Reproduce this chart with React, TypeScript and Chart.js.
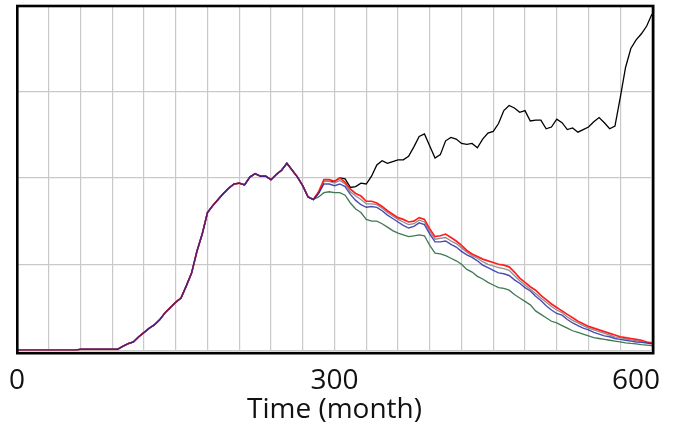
import { useEffect, useRef } from 'react';
import { Chart, registerables } from 'chart.js';

Chart.register(...registerables);

// Simulation time axis, one sample every 5 months (0 .. 600)
const months: number[] = Array.from({ length: 121 }, (_, i) => i * 5);

// Trajectory common to every run, months 0 .. 280
const sharedRun: number[] = [
  0.005, 0.005, 0.005, 0.005, 0.005, 0.005, 0.005, 0.005, 0.005, 0.005, 0.005, 0.005,
  0.015, 0.015, 0.015, 0.015, 0.015, 0.015, 0.015, 0.015,
  0.05, 0.08, 0.10, 0.16, 0.21, 0.26, 0.30, 0.36, 0.44, 0.50,
  0.56, 0.61, 0.75, 0.90, 1.15, 1.35, 1.60, 1.68, 1.75, 1.82,
  1.88, 1.93, 1.94, 1.92, 2.01, 2.05, 2.02, 2.02, 1.98, 2.04,
  2.09, 2.17, 2.09, 2.01, 1.91, 1.78, 1.75,
];

// Individual runs after they separate, months 285 .. 600
const blackRun: number[] = [
  1.83, 1.96, 1.96, 1.96, 2.00, 1.99, 1.89, 1.90, 1.94, 1.93,
  2.02, 2.15, 2.20, 2.17, 2.19, 2.21, 2.21, 2.25, 2.36, 2.48,
  2.51, 2.37, 2.23, 2.27, 2.43, 2.47, 2.45, 2.40, 2.39, 2.40,
  2.35, 2.45, 2.52, 2.54, 2.63, 2.78, 2.84, 2.81, 2.76, 2.78,
  2.66, 2.67, 2.67, 2.57, 2.59, 2.68, 2.64, 2.56, 2.58, 2.53,
  2.56, 2.59, 2.65, 2.70, 2.64, 2.57, 2.60, 2.93, 3.28, 3.50,
  3.60, 3.67, 3.76, 3.90,
];

const redRun: number[] = [
  1.84, 1.98, 1.98, 1.96, 2.00, 1.95, 1.87, 1.82, 1.79, 1.73,
  1.73, 1.71, 1.67, 1.62, 1.58, 1.54, 1.52, 1.49, 1.50, 1.54,
  1.52, 1.41, 1.32, 1.33, 1.35, 1.31, 1.27, 1.22, 1.16, 1.12,
  1.09, 1.06, 1.04, 1.02, 1.00, 0.99, 0.97, 0.91, 0.84, 0.79,
  0.74, 0.70, 0.64, 0.59, 0.54, 0.50, 0.46, 0.42, 0.38, 0.34,
  0.31, 0.28, 0.26, 0.24, 0.22, 0.20, 0.18, 0.16, 0.15, 0.14,
  0.13, 0.12, 0.10, 0.09,
];

const grayRun: number[] = [
  1.83, 1.96, 1.96, 1.94, 1.97, 1.93, 1.84, 1.79, 1.75, 1.70,
  1.70, 1.69, 1.65, 1.60, 1.56, 1.52, 1.49, 1.46, 1.47, 1.51,
  1.49, 1.38, 1.29, 1.30, 1.31, 1.27, 1.24, 1.19, 1.14, 1.10,
  1.07, 1.03, 1.00, 0.98, 0.96, 0.95, 0.93, 0.87, 0.81, 0.76,
  0.71, 0.66, 0.61, 0.56, 0.51, 0.47, 0.44, 0.39, 0.35, 0.32,
  0.29, 0.26, 0.24, 0.22, 0.20, 0.18, 0.16, 0.15, 0.135, 0.125,
  0.115, 0.105, 0.095, 0.085,
];

const blueRun: number[] = [
  1.82, 1.93, 1.93, 1.91, 1.93, 1.90, 1.81, 1.74, 1.69, 1.66,
  1.67, 1.66, 1.62, 1.57, 1.53, 1.49, 1.45, 1.42, 1.44, 1.48,
  1.46, 1.35, 1.26, 1.26, 1.27, 1.23, 1.20, 1.15, 1.11, 1.08,
  1.04, 0.99, 0.96, 0.93, 0.90, 0.89, 0.87, 0.82, 0.78, 0.73,
  0.69, 0.63, 0.58, 0.52, 0.47, 0.43, 0.41, 0.36, 0.32, 0.29,
  0.26, 0.24, 0.21, 0.19, 0.17, 0.16, 0.14, 0.13, 0.12, 0.11,
  0.10, 0.095, 0.087, 0.08,
];

const greenRun: number[] = [
  1.78, 1.83, 1.84, 1.83, 1.83, 1.80, 1.71, 1.64, 1.60, 1.52,
  1.50, 1.50, 1.47, 1.43, 1.39, 1.36, 1.34, 1.32, 1.33, 1.34,
  1.33, 1.22, 1.13, 1.12, 1.10, 1.07, 1.04, 1.00, 0.94, 0.91,
  0.86, 0.83, 0.79, 0.76, 0.73, 0.72, 0.70, 0.65, 0.61, 0.57,
  0.53, 0.46, 0.42, 0.38, 0.34, 0.32, 0.29, 0.26, 0.23, 0.21,
  0.19, 0.17, 0.15, 0.14, 0.13, 0.12, 0.11, 0.10, 0.09, 0.083,
  0.078, 0.07, 0.064, 0.058,
];

// Labelled x ticks; grid lines fall every 30 months
const xTickLabels: number[] = [0, 300, 600];
const X_MIN = 0;
const X_MAX = 600;
const Y_MIN = 0;
const Y_MAX = 4;

const FONT_FAMILY = '"Open Sans", "Noto Sans", sans-serif';
const TEXT_COLOR = '#111111';
const GRID_COLOR = '#c9c9c9';

function toPoints(tail: number[]) {
  const values = sharedRun.concat(tail);
  return months.map((m, i) => ({ x: m, y: values[i] }));
}

// Thick frame round the plot and the x tick labels, kept inside the canvas
const framePlugin = {
  id: 'frameAndTicks',
  afterDatasetsDraw(chart: Chart) {
    const { ctx, chartArea, scales } = chart;
    const { left, top, right, bottom } = chartArea;
    ctx.save();
    ctx.strokeStyle = '#000000';
    ctx.lineWidth = 2.6;
    ctx.strokeRect(left + 0.3, top + 0.7, right - left + 0.9, bottom - top + 1.9);

    const xScale = scales.x;
    ctx.font = `28px ${FONT_FAMILY}`;
    ctx.fillStyle = TEXT_COLOR;
    ctx.textAlign = 'center';
    ctx.textBaseline = 'alphabetic';
    const canvasWidth = chart.width;
    for (const v of xTickLabels) {
      const text = String(v);
      const half = ctx.measureText(text).width / 2;
      let cx = xScale.getPixelForValue(v);
      cx = Math.max(cx, half);
      cx = Math.min(cx, canvasWidth - 13 - half);
      ctx.fillText(text, cx, bottom + 38);
    }
    ctx.restore();
  },
};

export default function App() {
  const canvasRef = useRef<HTMLCanvasElement | null>(null);

  useEffect(() => {
    const canvas = canvasRef.current;
    if (!canvas) return;

    const line = (label: string, color: string, tail: number[], width: number) => ({
      label,
      data: toPoints(tail),
      borderColor: color,
      backgroundColor: color,
      borderWidth: width,
      pointRadius: 0,
      tension: 0,
      fill: false,
    });

    // The first dataset is painted last, so blue sits on top of red
    const chart = new Chart(canvas, {
      type: 'line',
      data: {
        datasets: [
          line('blue', 'rgba(30, 30, 160, 0.8)', blueRun, 1.4),
          line('red', '#ff1e1e', redRun, 1.7),
          line('gray', '#8e8e8e', grayRun, 1.3),
          line('green', '#3f7a55', greenRun, 1.3),
          line('black', '#000000', blackRun, 1.3),
        ],
      },
      options: {
        responsive: false,
        animation: false,
        devicePixelRatio: 1,
        layout: { padding: { left: 17, right: 21, top: 5.3, bottom: 0 } },
        plugins: {
          legend: { display: false },
          tooltip: { enabled: false },
        },
        scales: {
          x: {
            type: 'linear',
            min: X_MIN,
            max: X_MAX,
            ticks: { stepSize: 30, display: false },
            grid: { color: GRID_COLOR, lineWidth: 1.2, drawTicks: false },
            border: { display: false },
            title: {
              display: true,
              text: 'Time (month)',
              color: TEXT_COLOR,
              font: { family: FONT_FAMILY, size: 28, lineHeight: 1.2 },
              padding: { top: 42.6, bottom: 7.2 },
            },
          },
          y: {
            type: 'linear',
            min: Y_MIN,
            max: Y_MAX,
            ticks: { stepSize: 1, display: false },
            grid: { color: GRID_COLOR, lineWidth: 1.2, drawTicks: false },
            border: { display: false },
          },
        },
      },
      plugins: [framePlugin],
    });

    return () => chart.destroy();
  }, []);

  return (
    <div style={{ position: 'absolute', left: 0, top: 0, width: 673, height: 434, background: '#ffffff' }}>
      <canvas ref={canvasRef} width={673} height={434} />
    </div>
  );
}
